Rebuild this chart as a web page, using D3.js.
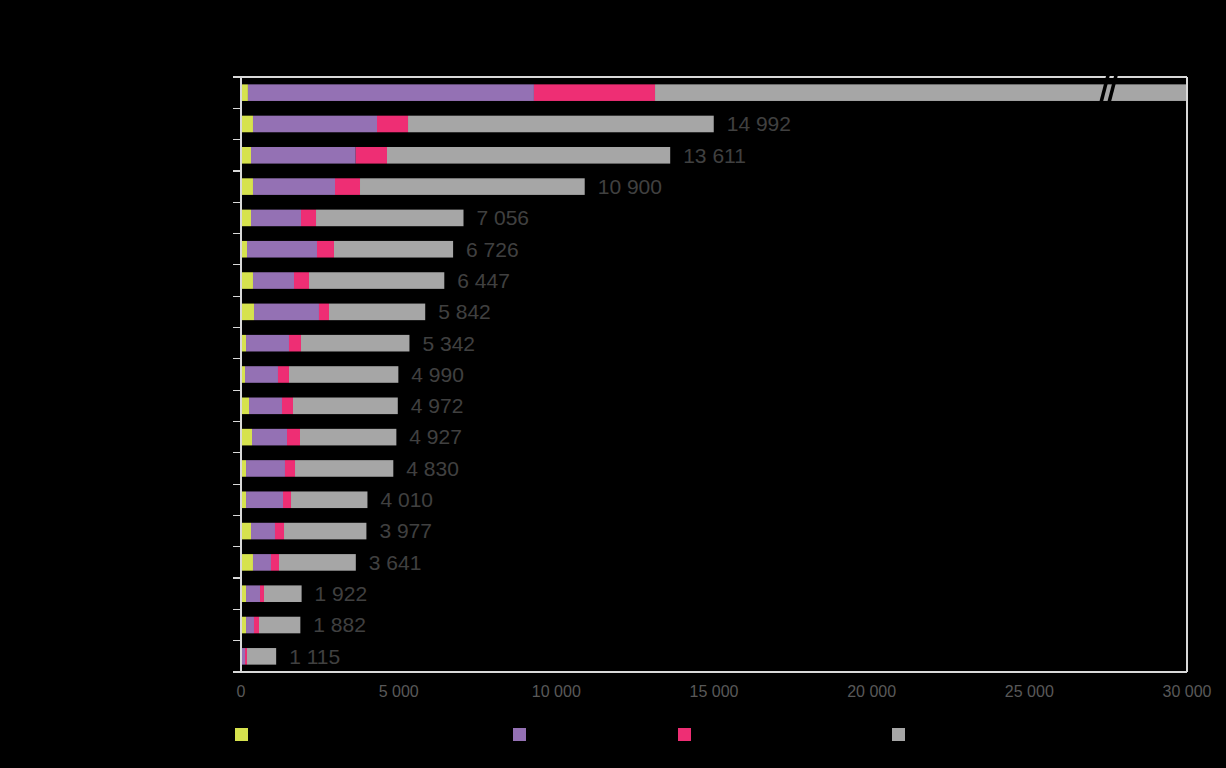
<!DOCTYPE html>
<html>
<head>
<meta charset="utf-8">
<script src="https://cdn.jsdelivr.net/npm/d3@7"></script>
<style>
  html, body { margin: 0; padding: 0; background: #000; }
  svg { display: block; }
</style>
</head>
<body>
<svg id="chart" width="1226" height="768"></svg>
<script>
// ---- data ----
const categories = ["C1","C2","C3","C4","C5","C6","C7","C8","C9","C10","C11","C12","C13","C14","C15","C16","C17","C18","C19"];
const seriesNames = ["Série 1", "Série 2", "Série 3", "Série 4"];
const serie1 = [220, 380, 317, 380, 317, 190, 380, 412, 159, 127, 254, 349, 159, 159, 317, 380, 159, 159, 20];
const serie2 = [9070, 3933, 3321, 2601, 1586, 2220, 1301, 2061, 1363, 1046, 1046, 1110, 1236, 1173, 761, 571, 444, 253, 107];
const serie3 = [3840, 984, 992, 793, 476, 539, 476, 318, 381, 349, 349, 412, 318, 254, 286, 254, 126, 159, 63];
const serie4 = [28000, 9695, 8981, 7126, 4677, 3777, 4290, 3051, 3439, 3468, 3323, 3056, 3117, 2424, 2613, 2436, 1193, 1311, 925];
const totals = [null, 14992, 13611, 10900, 7056, 6726, 6447, 5842, 5342, 4990, 4972, 4927, 4830, 4010, 3977, 3641, 1922, 1882, 1115];
const xTicks = [0, 5000, 10000, 15000, 20000, 25000, 30000];
const colors = ["#d6e24e", "#9471b4", "#ee2e74", "#a6a6a6"];

(function () {
// ---- layout ----
const pLeft = 241, pRight = 1187, pTop = 77, pBottom = 672;
const svg = d3.select("#chart");
svg.append("rect").attr("width", 1226).attr("height", 768).attr("fill", "#000");

const locale = d3.formatLocale({decimal: ",", thousands: " ", grouping: [3], currency: ["", ""]});
const fmt = locale.format(",d");

const x = d3.scaleLinear().domain([0, 30000]).range([pLeft, pRight]).clamp(true);
const y = d3.scaleBand().domain(categories).range([pTop, pBottom]).paddingInner(0.47).paddingOuter(0.235);

const rows = categories.map((c, i) => ({cat: c, s0: serie1[i], s1: serie2[i], s2: serie3[i], s3: serie4[i], total: totals[i]}));
const stacked = d3.stack().keys(["s0", "s1", "s2", "s3"])(rows);

svg.append("g").selectAll("g.series").data(stacked).join("g")
  .attr("class", "series")
  .attr("fill", (d, i) => colors[i])
  .selectAll("rect").data(d => d).join("rect")
  .attr("x", d => x(d[0]))
  .attr("y", d => y(d.data.cat))
  .attr("width", d => Math.max(0, x(d[1]) - x(d[0])))
  .attr("height", y.bandwidth());

// ---- frame / axes ----
const axisColor = "#d9d9d9";
const boundaries = d3.range(categories.length + 1).map(i => pTop + i * (pBottom - pTop) / categories.length);
const gAx = svg.append("g").attr("stroke", axisColor).attr("stroke-width", 1.2).attr("shape-rendering", "crispEdges");
gAx.append("line").attr("x1", pLeft).attr("x2", pLeft).attr("y1", pTop).attr("y2", pBottom);
gAx.append("line").attr("x1", pRight).attr("x2", pRight).attr("y1", pTop).attr("y2", pBottom);
gAx.append("line").attr("x1", pLeft - 8).attr("x2", pRight).attr("y1", pTop).attr("y2", pTop);
gAx.append("line").attr("x1", pLeft - 8).attr("x2", pRight).attr("y1", pBottom).attr("y2", pBottom);
gAx.selectAll("line.tick").data(boundaries).join("line").attr("class", "tick")
  .attr("x1", pLeft - 8).attr("x2", pLeft).attr("y1", d => d).attr("y2", d => d);

// x tick labels
svg.append("g").selectAll("text").data(xTicks).join("text")
  .attr("x", d => x(d))
  .attr("y", 697)
  .attr("text-anchor", "middle")
  .attr("font-family", "Liberation Sans, Arial, sans-serif")
  .attr("font-size", 16)
  .attr("fill", "#595959")
  .text(d => fmt(d));

// value labels
svg.append("g").selectAll("text").data(rows.filter(r => r.total !== null)).join("text")
  .attr("x", d => x(d.total) + 13)
  .attr("y", d => y(d.cat) + y.bandwidth() / 2)
  .attr("dy", "0.35em")
  .attr("font-family", "Liberation Sans, Arial, sans-serif")
  .attr("font-size", 21)
  .attr("fill", "#404040")
  .text(d => fmt(d.total));

// axis break mark on the first (overflowing) bar
const brkX = x(27340);
const by0 = pTop - 2, by1 = y(categories[0]) + y.bandwidth() + 1;
const gBreak = svg.append("g").attr("stroke", "#000").attr("stroke-width", 3.5);
[0, 8].forEach(off => {
  gBreak.append("line")
    .attr("x1", brkX + off + 5).attr("y1", by0)
    .attr("x2", brkX + off - 2).attr("y2", by1);
});

// legend (swatches only; labels are not visible in the reference)
const legendX = [235, 513, 678, 892];
svg.append("g").selectAll("rect").data(seriesNames).join("rect")
  .attr("x", (d, i) => legendX[i])
  .attr("y", 728)
  .attr("width", 13)
  .attr("height", 13)
  .attr("fill", (d, i) => colors[i]);
})();
</script>
</body>
</html>
